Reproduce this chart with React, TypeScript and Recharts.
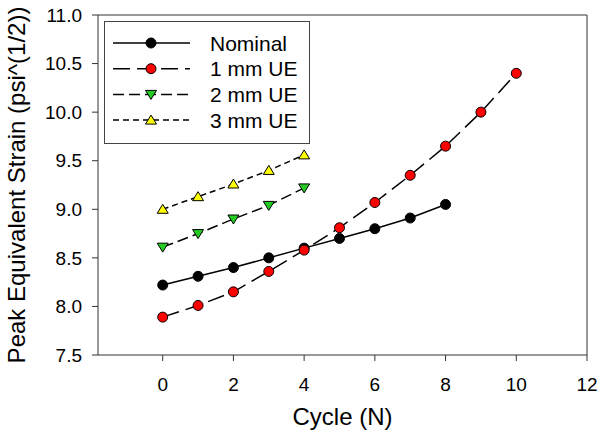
import React from 'react';
import { LineChart, Line, XAxis, YAxis, ReferenceLine, Label } from 'recharts';

const cycles = [0, 1, 2, 3, 4, 5, 6, 7, 8, 9, 10];
const nominal = [8.22, 8.31, 8.4, 8.5, 8.6, 8.7, 8.8, 8.91, 9.05];
const ue1 = [7.89, 8.01, 8.15, 8.36, 8.58, 8.81, 9.07, 9.35, 9.65, 10.0, 10.4];
const ue2 = [8.61, 8.75, 8.9, 9.04, 9.22];
const ue3 = [9.0, 9.13, 9.26, 9.4, 9.56];
const xTicks = [0, 2, 4, 6, 8, 10, 12];
const yTicks = [7.5, 8.0, 8.5, 9.0, 9.5, 10.0, 10.5, 11.0];

const FONT = '"Liberation Sans", Arial, sans-serif';

const series = [
  { key: 'nominal', name: 'Nominal', values: nominal, fill: '#000000', shape: 'circle', dash: undefined },
  { key: 'ue1', name: '1 mm UE', values: ue1, fill: '#ff0000', shape: 'circle', dash: '17 7' },
  { key: 'ue2', name: '2 mm UE', values: ue2, fill: '#22cc22', shape: 'down', dash: '11 5' },
  { key: 'ue3', name: '3 mm UE', values: ue3, fill: '#ffff00', shape: 'up', dash: '6 4' },
];

const data = cycles.map((c, i) => {
  const row: any = { cycle: c };
  series.forEach((s) => {
    row[s.key] = i < s.values.length ? s.values[i] : null;
  });
  return row;
});

const Marker = ({ cx, cy, shape, fill }: any) => {
  if (cx == null || cy == null) return <g />;
  if (shape === 'circle') {
    return <circle cx={cx} cy={cy} r={5} fill={fill} stroke="#000" strokeWidth={1} />;
  }
  const h = 8;
  const w = 5.5;
  const pts =
    shape === 'up'
      ? `${cx - w},${cy + h / 2} ${cx + w},${cy + h / 2} ${cx},${cy - h / 2 - 1}`
      : `${cx - w},${cy - h / 2} ${cx + w},${cy - h / 2} ${cx},${cy + h / 2 + 1}`;
  return <polygon points={pts} fill={fill} stroke="#000" strokeWidth={1} />;
};

// legend drawn as an overlay so it doesn't eat into the plot area
const LegendBox = () => (
  <svg width={206} height={123} style={{ position: 'absolute', left: 104, top: 21 }}>
    <rect x={0.5} y={0.5} width={205} height={122} fill="#fff" stroke="#444" strokeWidth={1} />
    {series.map((s, i) => {
      const y = 22 + i * 25.7;
      return (
        <g key={s.key}>
          <line x1={9} x2={86} y1={y} y2={y} stroke="#000" strokeWidth={1.5} strokeDasharray={s.dash} />
          <Marker cx={47} cy={y} shape={s.shape} fill={s.fill} />
          <text x={106} y={y + 7.5} fontFamily={FONT} fontSize={21} fill="#000">
            {s.name}
          </text>
        </g>
      );
    })}
  </svg>
);

export default function App() {
  return (
    <div style={{ position: 'absolute', left: 0, top: 0, width: 604, height: 440, background: '#fff' }}>
      <LineChart width={604} height={440} data={data} margin={{ top: 15, right: 17, bottom: 0, left: 0 }}>
        <XAxis
          dataKey="cycle"
          type="number"
          domain={[-1.83, 12]}
          ticks={xTicks}
          allowDataOverflow
          height={85}
          stroke="#333"
          tickSize={6}
          tickMargin={17}
          tick={{ fill: '#000', fontSize: 19, fontFamily: FONT }}
        >
          <Label value="Cycle (N)" position="insideBottom" offset={15} fill="#000" fontSize={24} fontFamily={FONT} />
        </XAxis>
        <YAxis
          type="number"
          domain={[7.5, 11]}
          ticks={yTicks}
          width={98}
          stroke="#333"
          tickSize={6}
          tickMargin={10}
          tickFormatter={(v: number) => v.toFixed(1)}
          tick={{ fill: '#000', fontSize: 19, fontFamily: FONT }}
        >
          <Label
            value="Peak Equivalent Strain (psi^(1/2))"
            position="insideLeft"
            angle={-90}
            offset={16}
            fill="#000"
            fontSize={24}
            fontFamily={FONT}
            style={{ textAnchor: 'middle' }}
          />
        </YAxis>
        <ReferenceLine y={11} stroke="#333" />
        <ReferenceLine x={12} stroke="#333" />
        {series.map((s) => (
          <Line
            key={s.key}
            dataKey={s.key}
            name={s.name}
            stroke="#000"
            strokeWidth={1.5}
            strokeDasharray={s.dash}
            isAnimationActive={false}
            connectNulls={false}
            dot={(p: any) => <Marker key={`${s.key}-${p.index}`} cx={p.cx} cy={p.cy} shape={s.shape} fill={s.fill} />}
            activeDot={false}
          />
        ))}
      </LineChart>
      <LegendBox />
    </div>
  );
}
